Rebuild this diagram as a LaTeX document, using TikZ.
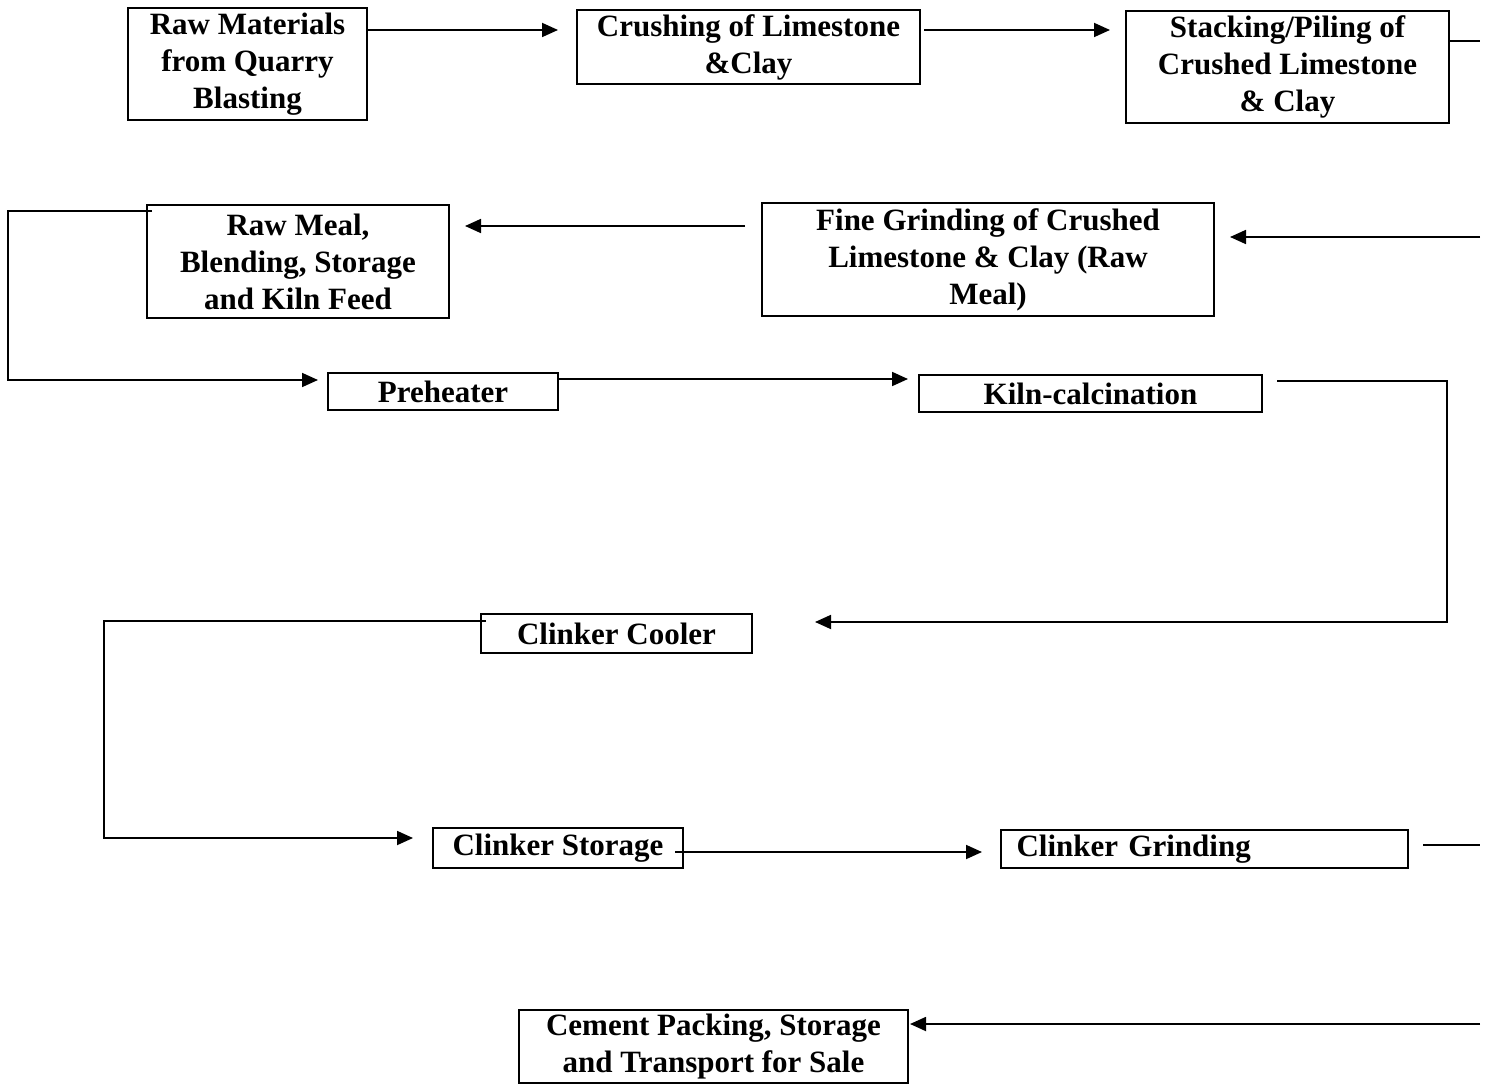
\documentclass[tikz,border=0pt]{standalone}
\usepackage{fontspec}
\setmainfont{Liberation Serif}
\usetikzlibrary{arrows.meta}
\begin{document}
\begin{tikzpicture}[x=0.5pt,y=-0.5pt,
  box/.style={draw, line width=0.8pt, inner sep=0pt, align=center,
    font=\bfseries\fontsize{15.5}{18.5}\selectfont},
  conn/.style={line width=0.9pt},
  arr/.style={conn,-{Triangle[length=8pt,width=7pt]}}]
\useasboundingbox (0,0) rectangle (1486,1085);
% boxes
\node[box, minimum width=119.5pt, minimum height=56pt] (raw) at (247.5,64)
  {Raw Materials\\from Quarry\\Blasting};
\node[box, minimum width=171.5pt, minimum height=37pt] (crush) at (748.5,47)
  {Crushing of Limestone\\\&Clay};
\node[box, minimum width=161.5pt, minimum height=56pt] (stack) at (1287.5,67)
  {Stacking/Piling of\\Crushed Limestone\\\& Clay};
\node[box, minimum width=151pt, minimum height=56.5pt] (meal) at (298,261.5)
  {Raw Meal,\\Blending, Storage\\and Kiln Feed};
\node[box, minimum width=226pt, minimum height=56.5pt] (fine) at (988,259.5)
  {Fine Grinding of Crushed\\Limestone \& Clay (Raw\\Meal)};
\node[box, minimum width=115pt, minimum height=18.5pt] (pre) at (443,391.5)
  {Preheater};
\node[box, minimum width=171.5pt, minimum height=18.5pt] (kiln) at (1090.5,393.5)
  {Kiln-calcination};
\node[box, minimum width=135.5pt, minimum height=19.5pt] (cool) at (616.5,633.5)
  {Clinker Cooler};
\node[box, minimum width=125pt, minimum height=20pt] (store) at (558,848)
  {Clinker Storage};
\node[box, minimum height=19pt, text width=188pt, inner xsep=7.75pt, align=left] (grind) at (1204.5,849)
  {Clinker Grinding};
\node[box, minimum width=194.5pt, minimum height=36.5pt] (pack) at (713.5,1046.5)
  {Cement Packing, Storage\\and Transport for Sale};
% coordinates
\coordinate (c1) at (558,30);
\coordinate (c2a) at (924,30);
\coordinate (c2) at (1110,30);
\coordinate (c3) at (1480,41);
\coordinate (c4) at (1480,237);
\coordinate (c4t) at (1230,237);
\coordinate (c5a) at (745,226);
\coordinate (c5) at (465,226);
\coordinate (c6a) at (152,211);
\coordinate (c6b) at (8,211);
\coordinate (c6c) at (8,380);
\coordinate (c6) at (318,380);
\coordinate (c7) at (908,379);
\coordinate (c8a) at (1277,381);
\coordinate (c8b) at (1447,381);
\coordinate (c8c) at (1447,622);
\coordinate (c8) at (815,622);
\coordinate (c9a) at (486,621);
\coordinate (c9b) at (104,621);
\coordinate (c9c) at (104,838);
\coordinate (c9) at (413,838);
\coordinate (c10a) at (675,852);
\coordinate (c10) at (982,852);
\coordinate (c11a) at (1423,845);
\coordinate (c11) at (1480,845);
\coordinate (c12a) at (1480,1024);
\coordinate (c12) at (910,1024);
% connectors
\draw[arr] (raw.east |- c1) -- (c1);
\draw[arr] (c2a) -- (c2);
\draw[conn] (stack.east |- c3) -- (c3);
\draw[arr] (c4) -- (c4t);
\draw[arr] (c5a) -- (c5);
\draw[arr] (c6a) -- (c6b) -- (c6c) -- (c6);
\draw[arr] (pre.east |- c7) -- (c7);
\draw[arr] (c8a) -- (c8b) -- (c8c) -- (c8);
\draw[arr] (c9a) -- (c9b) -- (c9c) -- (c9);
\draw[arr] (c10a) -- (c10);
\draw[conn] (c11a) -- (c11);
\draw[arr] (c12a) -- (c12);
\end{tikzpicture}
\end{document}
